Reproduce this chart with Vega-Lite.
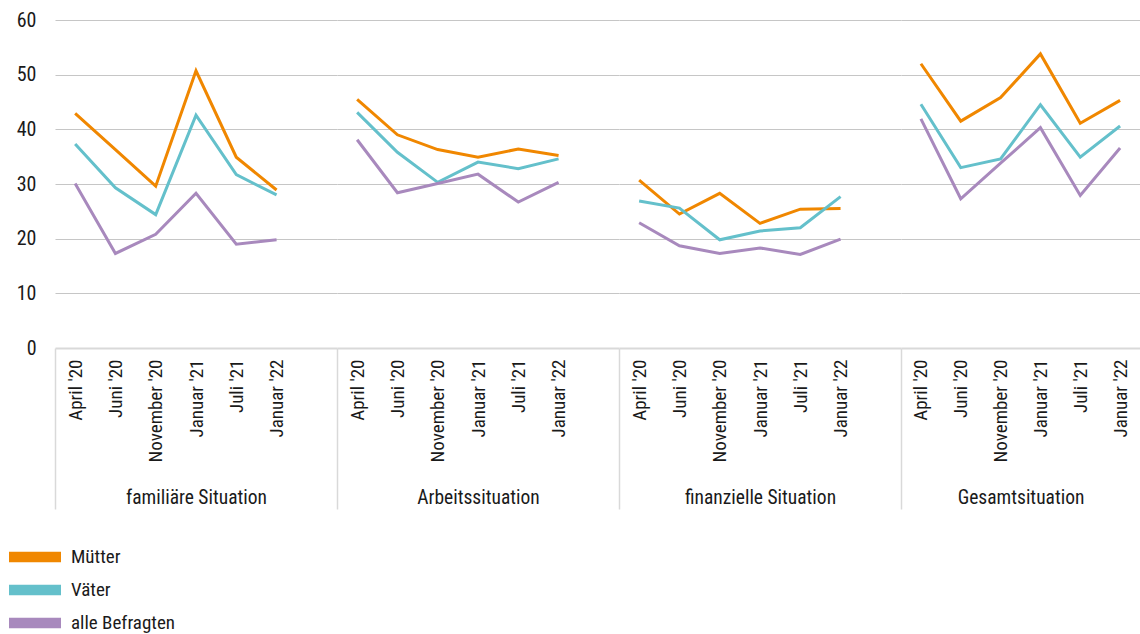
{
  "$schema": "https://vega.github.io/schema/vega-lite/v6.json",
  "padding": {"left": 16, "top": 10, "right": 0, "bottom": 0},
  "spacing": 0,
  "bounds": "flush",
  "config": {
    "view": {"stroke": null},
    "font": "Roboto Condensed, Liberation Sans Narrow, DejaVu Sans Condensed, Roboto, sans-serif",
    "axis": {"labelColor": "#1a1a1a", "titleColor": "#1a1a1a", "titleFontWeight": "normal"},
    "axisX": {"titleFontSize": 19.5, "titleY": 155, "titleBaseline": "alphabetic", "labelAngle": 270, "labelAlign": "right", "labelBaseline": "middle", "labelFontSize": 19, "labelPadding": -150, "tickBand": "extent", "tickSize": 161, "tickWidth": 1.5, "tickColor": {"condition": {"test": "datum.extra", "value": "#d9d9d9"}, "value": "transparent"}, "domainColor": "#d9d9d9", "domainWidth": 2},
    "axisY": {"title": null, "domain": false, "ticks": false, "labelPadding": 19, "labelFontSize": 20, "grid": true, "gridWidth": 1.2, "gridColor": {"condition": {"test": "datum.value === 0", "value": "transparent"}, "value": "#c6c6c6"}},
    "legend": {"labelColor": "#1a1a1a"}
  },
  "datasets": {
    "d": [
      {"bereich": "familiäre Situation", "zeit": "April '20", "gruppe": "Mütter", "wert": 42.9},
      {"bereich": "familiäre Situation", "zeit": "Juni '20", "gruppe": "Mütter", "wert": 36.3},
      {"bereich": "familiäre Situation", "zeit": "November '20", "gruppe": "Mütter", "wert": 29.6},
      {"bereich": "familiäre Situation", "zeit": "Januar '21", "gruppe": "Mütter", "wert": 50.7},
      {"bereich": "familiäre Situation", "zeit": "Juli '21", "gruppe": "Mütter", "wert": 34.9},
      {"bereich": "familiäre Situation", "zeit": "Januar '22", "gruppe": "Mütter", "wert": 28.9},
      {"bereich": "familiäre Situation", "zeit": "April '20", "gruppe": "Väter", "wert": 37.3},
      {"bereich": "familiäre Situation", "zeit": "Juni '20", "gruppe": "Väter", "wert": 29.3},
      {"bereich": "familiäre Situation", "zeit": "November '20", "gruppe": "Väter", "wert": 24.4},
      {"bereich": "familiäre Situation", "zeit": "Januar '21", "gruppe": "Väter", "wert": 42.6},
      {"bereich": "familiäre Situation", "zeit": "Juli '21", "gruppe": "Väter", "wert": 31.7},
      {"bereich": "familiäre Situation", "zeit": "Januar '22", "gruppe": "Väter", "wert": 28.0},
      {"bereich": "familiäre Situation", "zeit": "April '20", "gruppe": "alle Befragten", "wert": 30.1},
      {"bereich": "familiäre Situation", "zeit": "Juni '20", "gruppe": "alle Befragten", "wert": 17.3},
      {"bereich": "familiäre Situation", "zeit": "November '20", "gruppe": "alle Befragten", "wert": 20.8},
      {"bereich": "familiäre Situation", "zeit": "Januar '21", "gruppe": "alle Befragten", "wert": 28.3},
      {"bereich": "familiäre Situation", "zeit": "Juli '21", "gruppe": "alle Befragten", "wert": 19.0},
      {"bereich": "familiäre Situation", "zeit": "Januar '22", "gruppe": "alle Befragten", "wert": 19.8},
      {"bereich": "Arbeitssituation", "zeit": "April '20", "gruppe": "Mütter", "wert": 45.5},
      {"bereich": "Arbeitssituation", "zeit": "Juni '20", "gruppe": "Mütter", "wert": 39.0},
      {"bereich": "Arbeitssituation", "zeit": "November '20", "gruppe": "Mütter", "wert": 36.3},
      {"bereich": "Arbeitssituation", "zeit": "Januar '21", "gruppe": "Mütter", "wert": 34.9},
      {"bereich": "Arbeitssituation", "zeit": "Juli '21", "gruppe": "Mütter", "wert": 36.4},
      {"bereich": "Arbeitssituation", "zeit": "Januar '22", "gruppe": "Mütter", "wert": 35.2},
      {"bereich": "Arbeitssituation", "zeit": "April '20", "gruppe": "Väter", "wert": 43.1},
      {"bereich": "Arbeitssituation", "zeit": "Juni '20", "gruppe": "Väter", "wert": 35.8},
      {"bereich": "Arbeitssituation", "zeit": "November '20", "gruppe": "Väter", "wert": 30.3},
      {"bereich": "Arbeitssituation", "zeit": "Januar '21", "gruppe": "Väter", "wert": 34.0},
      {"bereich": "Arbeitssituation", "zeit": "Juli '21", "gruppe": "Väter", "wert": 32.8},
      {"bereich": "Arbeitssituation", "zeit": "Januar '22", "gruppe": "Väter", "wert": 34.6},
      {"bereich": "Arbeitssituation", "zeit": "April '20", "gruppe": "alle Befragten", "wert": 38.1},
      {"bereich": "Arbeitssituation", "zeit": "Juni '20", "gruppe": "alle Befragten", "wert": 28.4},
      {"bereich": "Arbeitssituation", "zeit": "November '20", "gruppe": "alle Befragten", "wert": 30.1},
      {"bereich": "Arbeitssituation", "zeit": "Januar '21", "gruppe": "alle Befragten", "wert": 31.8},
      {"bereich": "Arbeitssituation", "zeit": "Juli '21", "gruppe": "alle Befragten", "wert": 26.7},
      {"bereich": "Arbeitssituation", "zeit": "Januar '22", "gruppe": "alle Befragten", "wert": 30.3},
      {"bereich": "finanzielle Situation", "zeit": "April '20", "gruppe": "Mütter", "wert": 30.7},
      {"bereich": "finanzielle Situation", "zeit": "Juni '20", "gruppe": "Mütter", "wert": 24.5},
      {"bereich": "finanzielle Situation", "zeit": "November '20", "gruppe": "Mütter", "wert": 28.3},
      {"bereich": "finanzielle Situation", "zeit": "Januar '21", "gruppe": "Mütter", "wert": 22.8},
      {"bereich": "finanzielle Situation", "zeit": "Juli '21", "gruppe": "Mütter", "wert": 25.4},
      {"bereich": "finanzielle Situation", "zeit": "Januar '22", "gruppe": "Mütter", "wert": 25.5},
      {"bereich": "finanzielle Situation", "zeit": "April '20", "gruppe": "Väter", "wert": 26.9},
      {"bereich": "finanzielle Situation", "zeit": "Juni '20", "gruppe": "Väter", "wert": 25.6},
      {"bereich": "finanzielle Situation", "zeit": "November '20", "gruppe": "Väter", "wert": 19.8},
      {"bereich": "finanzielle Situation", "zeit": "Januar '21", "gruppe": "Väter", "wert": 21.4},
      {"bereich": "finanzielle Situation", "zeit": "Juli '21", "gruppe": "Väter", "wert": 22.0},
      {"bereich": "finanzielle Situation", "zeit": "Januar '22", "gruppe": "Väter", "wert": 27.7},
      {"bereich": "finanzielle Situation", "zeit": "April '20", "gruppe": "alle Befragten", "wert": 22.9},
      {"bereich": "finanzielle Situation", "zeit": "Juni '20", "gruppe": "alle Befragten", "wert": 18.7},
      {"bereich": "finanzielle Situation", "zeit": "November '20", "gruppe": "alle Befragten", "wert": 17.3},
      {"bereich": "finanzielle Situation", "zeit": "Januar '21", "gruppe": "alle Befragten", "wert": 18.3},
      {"bereich": "finanzielle Situation", "zeit": "Juli '21", "gruppe": "alle Befragten", "wert": 17.1},
      {"bereich": "finanzielle Situation", "zeit": "Januar '22", "gruppe": "alle Befragten", "wert": 19.9},
      {"bereich": "Gesamtsituation", "zeit": "April '20", "gruppe": "Mütter", "wert": 52.0},
      {"bereich": "Gesamtsituation", "zeit": "Juni '20", "gruppe": "Mütter", "wert": 41.5},
      {"bereich": "Gesamtsituation", "zeit": "November '20", "gruppe": "Mütter", "wert": 45.8},
      {"bereich": "Gesamtsituation", "zeit": "Januar '21", "gruppe": "Mütter", "wert": 53.8},
      {"bereich": "Gesamtsituation", "zeit": "Juli '21", "gruppe": "Mütter", "wert": 41.1},
      {"bereich": "Gesamtsituation", "zeit": "Januar '22", "gruppe": "Mütter", "wert": 45.3},
      {"bereich": "Gesamtsituation", "zeit": "April '20", "gruppe": "Väter", "wert": 44.6},
      {"bereich": "Gesamtsituation", "zeit": "Juni '20", "gruppe": "Väter", "wert": 33.0},
      {"bereich": "Gesamtsituation", "zeit": "November '20", "gruppe": "Väter", "wert": 34.6},
      {"bereich": "Gesamtsituation", "zeit": "Januar '21", "gruppe": "Väter", "wert": 44.5},
      {"bereich": "Gesamtsituation", "zeit": "Juli '21", "gruppe": "Väter", "wert": 34.9},
      {"bereich": "Gesamtsituation", "zeit": "Januar '22", "gruppe": "Väter", "wert": 40.6},
      {"bereich": "Gesamtsituation", "zeit": "April '20", "gruppe": "alle Befragten", "wert": 41.9},
      {"bereich": "Gesamtsituation", "zeit": "Juni '20", "gruppe": "alle Befragten", "wert": 27.3},
      {"bereich": "Gesamtsituation", "zeit": "November '20", "gruppe": "alle Befragten", "wert": 33.8},
      {"bereich": "Gesamtsituation", "zeit": "Januar '21", "gruppe": "alle Befragten", "wert": 40.3},
      {"bereich": "Gesamtsituation", "zeit": "Juli '21", "gruppe": "alle Befragten", "wert": 27.9},
      {"bereich": "Gesamtsituation", "zeit": "Januar '22", "gruppe": "alle Befragten", "wert": 36.6}
    ]
  },
  "resolve": {"scale": {"x": "independent", "y": "shared", "color": "shared"}},
  "hconcat": [
    {
      "width": 282, "height": 328,
      "data": {"name": "d"},
      "transform": [{"filter": "datum.bereich === 'familiäre Situation'"}],
      "mark": {"type": "line", "strokeWidth": 3},
      "encoding": {
        "x": {"field": "zeit", "type": "ordinal",
          "scale": {"type": "band", "domain": ["April '20", "Juni '20", "November '20", "Januar '21", "Juli '21", "Januar '22", " "], "paddingInner": 0, "paddingOuter": 0},
          "axis": {"title": "familiäre Situation"}},
        "y": {"field": "wert", "type": "quantitative", "scale": {"domain": [0, 60]}, "axis": {"values": [0, 10, 20, 30, 40, 50, 60]}},
        "color": {"field": "gruppe", "type": "nominal",
          "scale": {"domain": ["Mütter", "Väter", "alle Befragten"], "range": ["#f08700", "#64c0cb", "#a889bd"]},
          "legend": {"orient": "none", "legendX": -33, "legendY": 524, "title": null, "direction": "vertical", "symbolType": "M-2,-0.41H2V0.41H-2Z", "symbolSize": 676, "symbolStrokeWidth": 0, "labelFontSize": 19, "labelOffset": 23, "rowPadding": 10, "padding": 0,
            "encode": {"symbols": {"update": {"fill": {"scale": "color", "field": "value"}, "stroke": {"value": "transparent"}, "opacity": {"value": 1}}}}}}
      }
    },
    {
      "width": 282, "height": 328,
      "data": {"name": "d"},
      "transform": [{"filter": "datum.bereich === 'Arbeitssituation'"}],
      "mark": {"type": "line", "strokeWidth": 3},
      "encoding": {
        "x": {"field": "zeit", "type": "ordinal",
          "scale": {"type": "band", "domain": ["April '20", "Juni '20", "November '20", "Januar '21", "Juli '21", "Januar '22", " "], "paddingInner": 0, "paddingOuter": 0},
          "axis": {"title": "Arbeitssituation"}},
        "y": {"field": "wert", "type": "quantitative", "scale": {"domain": [0, 60]}, "axis": {"labels": false, "values": [0, 10, 20, 30, 40, 50, 60]}},
        "color": {"field": "gruppe", "type": "nominal"}
      }
    },
    {
      "width": 282, "height": 328,
      "data": {"name": "d"},
      "transform": [{"filter": "datum.bereich === 'finanzielle Situation'"}],
      "mark": {"type": "line", "strokeWidth": 3},
      "encoding": {
        "x": {"field": "zeit", "type": "ordinal",
          "scale": {"type": "band", "domain": ["April '20", "Juni '20", "November '20", "Januar '21", "Juli '21", "Januar '22", " "], "paddingInner": 0, "paddingOuter": 0},
          "axis": {"title": "finanzielle Situation"}},
        "y": {"field": "wert", "type": "quantitative", "scale": {"domain": [0, 60]}, "axis": {"labels": false, "values": [0, 10, 20, 30, 40, 50, 60]}},
        "color": {"field": "gruppe", "type": "nominal"}
      }
    },
    {
      "width": 239, "height": 328,
      "data": {"name": "d"},
      "transform": [{"filter": "datum.bereich === 'Gesamtsituation'"}],
      "mark": {"type": "line", "strokeWidth": 3},
      "encoding": {
        "x": {"field": "zeit", "type": "ordinal",
          "scale": {"type": "band", "domain": ["April '20", "Juni '20", "November '20", "Januar '21", "Juli '21", "Januar '22"], "paddingInner": 0, "paddingOuter": 0},
          "axis": {"title": "Gesamtsituation"}},
        "y": {"field": "wert", "type": "quantitative", "scale": {"domain": [0, 60]}, "axis": {"labels": false, "values": [0, 10, 20, 30, 40, 50, 60]}},
        "color": {"field": "gruppe", "type": "nominal"}
      }
    }
  ]
}
